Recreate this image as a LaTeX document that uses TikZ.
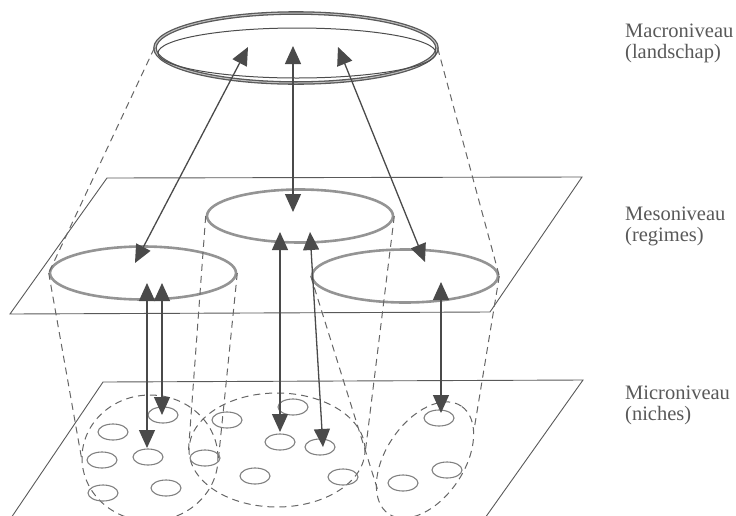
\documentclass[tikz,border=0pt]{standalone}
\usepackage{fontspec}
\setmainfont{Liberation Serif}
\usetikzlibrary{arrows.meta,shapes.geometric}
\definecolor{arr}{HTML}{4A4A4A}
\begin{document}
\begin{tikzpicture}[x=1pt,y=-1pt,
  plane/.style={draw=black!65, line width=0.9pt},
  dsh/.style={draw=black!60, line width=1pt, dash pattern=on 7pt off 5pt},
  regime/.style={ellipse, draw=black!42, line width=2.6pt, inner sep=0pt, minimum width=186pt, minimum height=53pt},
  niche/.style={ellipse, draw=black!50, line width=1.1pt, inner sep=0pt, minimum width=30pt, minimum height=16pt},
  region/.style={ellipse, dsh, inner sep=0pt},
  link/.style={draw=arr, line width=1.3pt, {Triangle[length=18pt,width=16pt]}-{Triangle[length=18pt,width=16pt]}},
  lbl/.style={anchor=base west, inner sep=0pt, text=black!65, font=\fontsize{20.5}{24}\selectfont}]
\useasboundingbox (0,0) rectangle (736,515);
\clip (0,0) rectangle (736,515);

% planes
\draw[plane] (107,178) -- (582,177) -- (490,312) -- (10,314) -- cycle;
\draw[plane] (11,518) -- (103,382) -- (583,380) -- (485,518);

% macro ring
\node[ellipse, draw=black!65, line width=1.3pt, double=black!25, double distance=1pt, inner sep=0pt,
      minimum width=282pt, minimum height=70pt] (macro) at (296,48) {};
\node[ellipse, draw=black!70, line width=1pt, inner sep=0pt,
      minimum width=278pt, minimum height=50pt] (macroin) at (297,53) {};

% meso regimes
\node[regime] (mesoL) at (143,273) {};
\node[regime] (mesoM) at (300,216) {};
\node[regime] (mesoR) at (405,276) {};

% micro regions
\node[region, minimum width=136pt, minimum height=126pt] (microL) at (150,458) {};
\node[region, minimum width=176pt, minimum height=114pt] (microM) at (277,450) {};
\node[region, minimum width=130pt, minimum height=78pt, rotate=56] (microR) at (425,460) {};
\coordinate (rcl) at (378,491);
\coordinate (rcr) at (474,430);

% dashed projection lines
\draw[dsh] (macro.west) -- (mesoL.west);
\draw[dsh] (macro.east) -- (mesoR.east);
\draw[dsh] (mesoL.west) -- (microL.west);
\draw[dsh] (mesoL.east) -- (microL.east);
\draw[dsh] (mesoM.west) -- (microM.west);
\draw[dsh] (mesoM.east) -- (microM.east);
\draw[dsh] (mesoR.west) -- (rcl);
\draw[dsh] (mesoR.east) -- (rcr);

% niches
\node[niche] (n1) at (163,415) {};
\node[niche] (n2) at (113,432) {};
\node[niche] (n3) at (148,457) {};
\node[niche] (n4) at (102,460) {};
\node[niche] (n5) at (103,493) {};
\node[niche] (n6) at (166,488) {};
\node[niche] (n7) at (205,458) {};
\node[niche] (n8) at (227,420) {};
\node[niche] (n9) at (293,407) {};
\node[niche] (n10) at (280,442) {};
\node[niche] (n11) at (320,447) {};
\node[niche] (n12) at (255,476) {};
\node[niche] (n13) at (343,477) {};
\node[niche] (n14) at (439,418) {};
\node[niche] (n15) at (447,470) {};
\node[niche] (n16) at (403,483) {};

% arrow end points
\coordinate (t1) at (248,47);
\coordinate (t2) at (293,46);
\coordinate (t3) at (338,47);
\coordinate (m1) at (135,263);
\coordinate (m2) at (293,212);
\coordinate (m3) at (425,262);
\coordinate (u1) at (147,283);
\coordinate (u2) at (162,283);
\coordinate (u3) at (280,232);
\coordinate (u4) at (310,232);
\coordinate (u5) at (441,282);
\coordinate (d1) at (147,448);
\coordinate (d2) at (162,415);
\coordinate (d3) at (280,432);
\coordinate (d4) at (323,447);
\coordinate (d5) at (441,413);

\draw[link] (t1) -- (m1);
\draw[link] (t2) -- (m2);
\draw[link] (t3) -- (m3);
\draw[link] (u1) -- (d1);
\draw[link] (u2) -- (d2);
\draw[link] (u3) -- (d3);
\draw[link] (u4) -- (d4);
\draw[link] (u5) -- (d5);

% labels
\node[lbl] (macroA) at (625,37) {Macroniveau};
\node[lbl] (macroB) at (625,58) {(landschap)};
\node[lbl] (mesoA) at (625,220) {Mesoniveau};
\node[lbl] (mesoB) at (625,241) {(regimes)};
\node[lbl] (microA) at (625,399) {Microniveau};
\node[lbl] (microB) at (625,420) {(niches)};
\end{tikzpicture}
\end{document}
